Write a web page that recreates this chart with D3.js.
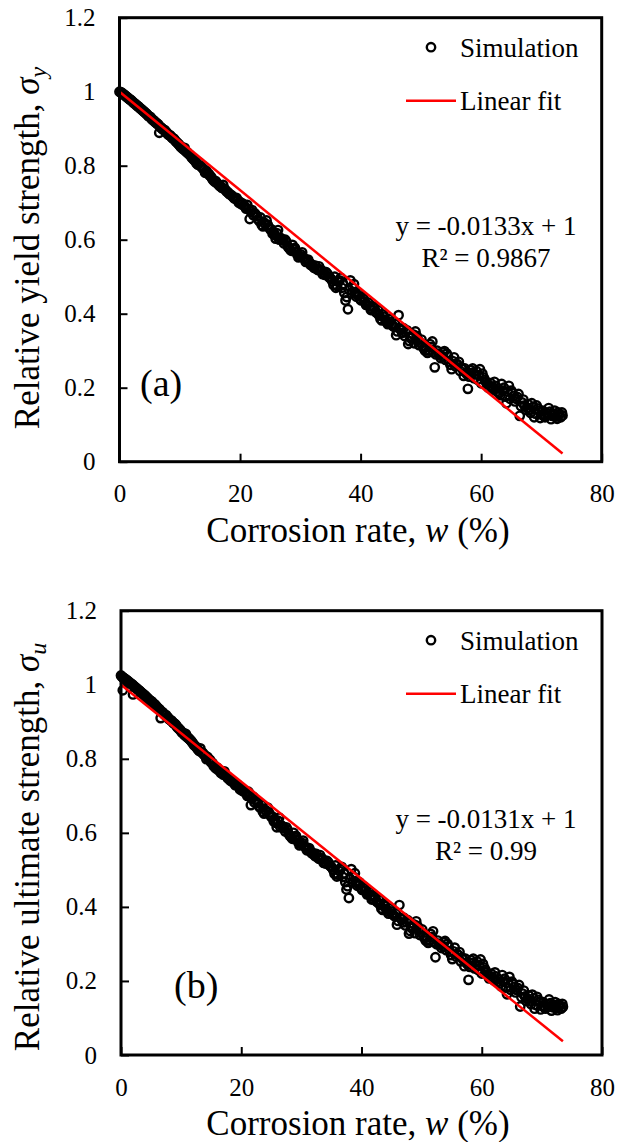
<!DOCTYPE html>
<html>
<head>
<meta charset="utf-8">
<script src="https://cdn.jsdelivr.net/npm/d3@7"></script>
<style>
  body { margin: 0; background: #fff; }
</style>
</head>
<body>
<svg id="chart" width="617" height="1142"></svg>
<script>
var FONT = '"Liberation Serif", "Times New Roman", Times, serif'

// simulation points, [corrosion rate w (%), relative strength]
var simA = [
  [0,1.000],[0.3,0.998],[0.6,0.994],[0.9,0.990],[1.2,0.986],[1.5,0.982],[1.8,0.978],[2.1,0.974],
  [2.4,0.969],[2.7,0.966],[3.0,0.961],[3.3,0.957],[3.6,0.953],[3.9,0.948],[4.2,0.944],[4.5,0.940],
  [4.8,0.934],[5.1,0.932],[5.4,0.925],[5.7,0.922],[6.0,0.917],[6.3,0.913],[6.6,0.889],[6.9,0.903],
  [7.2,0.898],[7.5,0.896],[7.8,0.890],[8.1,0.884],[8.4,0.882],[8.7,0.876],[9.0,0.873],[9.3,0.866],
  [9.6,0.862],[9.9,0.857],[10.2,0.850],[10.5,0.846],[10.8,0.848],[11.1,0.838],[11.4,0.833],[11.7,0.829],
  [12.0,0.822],[12.4,0.815],[12.8,0.806],[13.2,0.809],[13.6,0.797],[14.0,0.790],[14.4,0.786],[14.8,0.778],
  [15.2,0.770],[15.6,0.760],[16.0,0.758],[16.4,0.750],[16.8,0.744],[17.2,0.748],[17.6,0.734],[18.0,0.728],
  [18.4,0.722],[18.8,0.716],[19.2,0.711],[19.6,0.707],[20.0,0.702],[20.4,0.698],[20.8,0.690],[21.2,0.694],
  [21.6,0.656],[22.0,0.680],[22.4,0.672],[22.8,0.664],[23.2,0.650],[23.6,0.640],[24.0,0.646],[24.4,0.652],
  [24.8,0.633],[25.2,0.628],[25.6,0.620],[25.9,0.603],[26.3,0.626],[26.7,0.605],[27.1,0.598],[27.5,0.600],
  [27.9,0.582],[28.3,0.574],[28.7,0.586],[29.1,0.578],[29.5,0.560],[29.9,0.556],[30.3,0.566],[30.7,0.548],
  [31.1,0.543],[31.5,0.538],[31.9,0.533],[32.3,0.524],[32.7,0.521],[33.1,0.528],[33.5,0.518],[33.9,0.510],
  [34.3,0.512],[34.7,0.500],[35.1,0.494],[35.5,0.478],[35.9,0.470],[36.3,0.486],[36.7,0.497],[37.1,0.480],
  [37.5,0.436],[37.9,0.412],[38.3,0.490],[38.7,0.470],[39.1,0.458],[39.5,0.450],[39.9,0.440],[40.3,0.446],
  [40.7,0.432],[41.1,0.425],[41.5,0.420],[41.9,0.412],[42.3,0.415],[42.7,0.402],[43.1,0.395],[43.5,0.382],
  [43.9,0.392],[44.3,0.378],[44.7,0.386],[45.1,0.372],[45.5,0.365],[45.9,0.342],[46.3,0.396],[46.7,0.356],
  [47.1,0.361],[47.5,0.350],[47.9,0.318],[48.3,0.334],[48.7,0.344],[49.1,0.352],[49.5,0.330],[49.9,0.322],
  [50.3,0.312],[50.7,0.300],[51.1,0.294],[51.5,0.318],[51.9,0.325],[52.3,0.255],[52.7,0.300],[53.1,0.289],
  [53.5,0.285],[53.9,0.299],[54.3,0.292],[54.7,0.270],[55.1,0.250],[55.5,0.282],[55.9,0.265],[56.3,0.270],
  [56.7,0.255],[57.1,0.232],[57.5,0.240],[57.8,0.197],[58.2,0.248],[58.6,0.252],[59.0,0.236],[59.4,0.222],
  [59.8,0.250],[60.2,0.238],[60.6,0.222],[61.0,0.210],[61.4,0.206],[61.8,0.200],[62.2,0.216],[62.6,0.190],
  [63.0,0.186],[63.4,0.210],[63.8,0.200],[64.2,0.158],[64.6,0.205],[65.0,0.192],[65.4,0.178],[65.8,0.170],
  [66.2,0.183],[66.4,0.124],[66.8,0.160],[67.2,0.152],[67.6,0.145],[68.0,0.140],[68.4,0.158],[68.8,0.120],
  [69.2,0.152],[69.6,0.138],[70.0,0.128],[70.4,0.124],[70.8,0.132],[71.2,0.145],[71.6,0.115],[72.0,0.130],
  [72.4,0.122],[72.8,0.133],[73.2,0.120],[73.5,0.125]
]
var simA2 = [
  [0.15,0.999],[0.45,0.995],[0.75,0.992],[1.05,0.988],[1.35,0.984],[1.65,0.980],[1.95,0.977],[2.25,0.972],
  [2.55,0.968],[2.85,0.963],[3.15,0.960],[3.45,0.955],[3.75,0.951],[4.05,0.947],[4.35,0.942],[4.65,0.937],
  [4.95,0.933],[5.25,0.929],[5.55,0.924],[5.85,0.919],[6.15,0.915],[6.45,0.911],[6.75,0.905],[7.05,0.901],
  [7.35,0.897],[7.65,0.892],[7.95,0.887],[8.25,0.883],[8.55,0.879],[8.85,0.874],[9.15,0.870],[9.45,0.864],
  [9.75,0.859],[10.05,0.853],[10.35,0.850],[10.65,0.844],[10.95,0.840],[11.25,0.836],[11.55,0.831],[11.85,0.826],
  [12.2,0.818],[12.6,0.812],[13.0,0.803],[13.4,0.800],[13.8,0.793],[14.2,0.781],[14.6,0.780],[15.0,0.773],
  [15.4,0.764],[15.8,0.757],[16.2,0.752],[16.6,0.745],[17.0,0.740],[17.4,0.738],[17.8,0.730],[18.2,0.724],
  [18.6,0.720],[19.0,0.712],[19.4,0.713],[19.8,0.700],[20.2,0.696],[20.6,0.693],[21.0,0.684],[21.4,0.683],
  [21.8,0.676],[22.2,0.666],[22.6,0.668],[23.0,0.655],[23.4,0.660],[23.8,0.636],[24.2,0.642],[24.6,0.640],
  [25.0,0.628],[25.4,0.616],[25.8,0.612],[26.1,0.618],[26.5,0.600],[26.9,0.602],[27.3,0.590],[27.7,0.594],
  [28.1,0.578],[28.5,0.570],[28.9,0.575],[29.3,0.567],[29.7,0.552],[30.1,0.560],[30.5,0.552],[30.9,0.540],
  [31.3,0.546],[31.7,0.532],[32.1,0.528],[32.5,0.530],[32.9,0.518],[33.3,0.520],[33.7,0.507],[34.1,0.505],
  [34.5,0.508],[34.9,0.497],[35.3,0.488],[35.7,0.500],[36.1,0.475],[36.5,0.490],[36.9,0.470],[37.3,0.456],
  [37.7,0.445],[38.1,0.465],[38.5,0.456],[38.9,0.480],[39.3,0.446],[39.7,0.455],[40.1,0.436],[40.5,0.440],
  [40.9,0.424],[41.3,0.430],[41.7,0.410],[42.1,0.420],[42.5,0.405],[42.9,0.410],[43.3,0.386],[43.7,0.398],
  [44.1,0.384],[44.5,0.372],[44.9,0.378],[45.3,0.368],[45.7,0.372],[46.1,0.352],[46.5,0.360],[46.9,0.348],
  [47.3,0.340],[47.7,0.355],[48.1,0.326],[48.5,0.338],[48.9,0.320],[49.3,0.340],[49.7,0.315],[50.1,0.330],
  [50.5,0.306],[50.9,0.310],[51.3,0.300],[51.7,0.310],[52.1,0.296],[52.5,0.290],[52.9,0.292],[53.3,0.280],
  [53.7,0.295],[54.1,0.275],[54.5,0.285],[54.9,0.262],[55.3,0.272],[55.7,0.258],[56.1,0.262],[56.5,0.245],
  [56.9,0.250],[57.3,0.252],[57.7,0.236],[58.0,0.230],[58.4,0.240],[58.8,0.226],[59.2,0.245],[59.6,0.234],
  [60.0,0.212],[60.4,0.228],[60.8,0.215],[61.2,0.200],[61.6,0.212],[62.0,0.195],[62.4,0.205],[62.8,0.198],
  [63.2,0.180],[63.6,0.192],[64.0,0.176],[64.4,0.190],[64.8,0.170],[65.2,0.186],[65.6,0.163],[66.0,0.175],
  [66.6,0.150],[67.0,0.168],[67.4,0.140],[67.8,0.155],[68.2,0.132],[68.6,0.148],[69.0,0.130],[69.4,0.144],
  [69.8,0.118],[70.2,0.138],[70.6,0.120],[71.0,0.126],[71.4,0.135],[71.8,0.124],[72.2,0.138],[72.6,0.116],
  [73.0,0.128],[73.4,0.133]
]

var simB = [
  [0,1.025],[0.3,1.020],[0.3,0.985],[0.6,1.017],[0.9,1.013],[1.2,1.009],[1.5,1.005],[1.8,1.001],
  [2.0,0.974],[2.1,0.997],[2.4,0.993],[2.7,0.989],[3.0,0.985],[3.3,0.980],[3.6,0.976],[3.9,0.972],
  [4.2,0.967],[4.5,0.963],[4.8,0.958],[5.1,0.955],[5.4,0.949],[5.7,0.946],[6.0,0.940],[6.3,0.935],
  [6.6,0.910],[6.9,0.926],[7.2,0.920],[7.5,0.918],[7.8,0.912],[8.1,0.906],[8.4,0.903],[8.7,0.897],
  [9.0,0.894],[9.3,0.887],[9.6,0.882],[9.9,0.877],[10.2,0.870],[10.5,0.866],[10.8,0.867],[11.1,0.858],
  [11.4,0.853],[11.7,0.848],[12.0,0.841],[12.4,0.834],[12.8,0.825],[13.2,0.828],[13.6,0.816],[14.0,0.809],
  [14.4,0.805],[14.8,0.797],[15.2,0.789],[15.6,0.778],[16.0,0.776],[16.4,0.769],[16.8,0.762],[17.2,0.766],
  [17.6,0.752],[18.0,0.746],[18.4,0.740],[18.8,0.734],[19.2,0.729],[19.6,0.725],[20.0,0.720],[20.4,0.716],
  [20.8,0.707],[21.2,0.711],[21.6,0.675],[22.0,0.697],[22.4,0.689],[22.8,0.681],[23.2,0.667],[23.6,0.657],
  [24.0,0.662],[24.4,0.668],[24.8,0.649],[25.2,0.644],[25.6,0.636],[25.9,0.615],[26.3,0.641],[26.7,0.620],
  [27.1,0.613],[27.5,0.615],[27.9,0.597],[28.3,0.589],[28.7,0.600],[29.1,0.592],[29.5,0.574],[29.9,0.570],
  [30.3,0.579],[30.7,0.561],[31.1,0.556],[31.5,0.551],[31.9,0.546],[32.3,0.537],[32.7,0.534],[33.1,0.540],
  [33.5,0.530],[33.9,0.522],[34.3,0.524],[34.7,0.512],[35.1,0.506],[35.5,0.490],[35.9,0.482],[36.3,0.497],
  [36.7,0.508],[37.1,0.491],[37.5,0.447],[37.9,0.424],[38.3,0.502],[38.7,0.481],[39.1,0.469],[39.5,0.461],
  [39.9,0.451],[40.3,0.456],[40.7,0.443],[41.1,0.435],[41.5,0.430],[41.9,0.422],[42.3,0.425],[42.7,0.412],
  [43.1,0.405],[43.5,0.392],[43.9,0.402],[44.3,0.388],[44.7,0.396],[45.1,0.382],[45.5,0.375],[45.9,0.352],
  [46.3,0.405],[46.7,0.366],[47.1,0.370],[47.5,0.359],[47.9,0.328],[48.3,0.343],[48.7,0.353],[49.1,0.361],
  [49.5,0.339],[49.9,0.331],[50.3,0.321],[50.7,0.309],[51.1,0.303],[51.5,0.327],[51.9,0.334],[52.3,0.264],
  [52.7,0.309],[53.1,0.298],[53.5,0.294],[53.9,0.308],[54.3,0.300],[54.7,0.279],[55.1,0.259],[55.5,0.290],
  [55.9,0.273],[56.3,0.278],[56.7,0.263],[57.1,0.240],[57.5,0.248],[57.8,0.203],[58.2,0.256],[58.6,0.260],
  [59.0,0.244],[59.4,0.230],[59.8,0.258],[60.2,0.246],[60.6,0.230],[61.0,0.218],[61.4,0.213],[61.8,0.207],
  [62.2,0.223],[62.6,0.197],[63.0,0.193],[63.4,0.216],[63.8,0.206],[64.2,0.164],[64.6,0.211],[65.0,0.198],
  [65.4,0.184],[65.8,0.176],[66.2,0.189],[66.4,0.131],[66.8,0.166],[67.2,0.158],[67.6,0.151],[68.0,0.145],
  [68.4,0.163],[68.8,0.125],[69.2,0.157],[69.6,0.143],[70.0,0.133],[70.4,0.129],[70.8,0.137],[71.2,0.150],
  [71.6,0.120],[72.0,0.135],[72.4,0.127],[72.8,0.138],[73.2,0.125],[73.5,0.130]
]
var simB2 = [
  [0.15,1.022],[0.45,1.018],[0.75,1.015],[1.05,1.011],[1.35,1.007],[1.65,1.003],[1.95,1.000],[2.25,0.995],
  [2.55,0.991],[2.85,0.986],[3.15,0.983],[3.45,0.978],[3.75,0.974],[4.05,0.970],[4.35,0.965],[4.65,0.960],
  [4.95,0.956],[5.25,0.952],[5.55,0.947],[5.85,0.942],[6.15,0.937],[6.45,0.933],[6.75,0.927],[7.05,0.923],
  [7.35,0.918],[7.65,0.913],[7.95,0.908],[8.25,0.904],[8.55,0.900],[8.85,0.895],[9.15,0.891],[9.45,0.884],
  [9.75,0.879],[10.05,0.873],[10.35,0.870],[10.65,0.863],[10.95,0.859],[11.25,0.855],[11.55,0.850],[11.85,0.844],
  [12.2,0.836],[12.6,0.830],[13.0,0.821],[13.4,0.818],[13.8,0.811],[14.2,0.799],[14.6,0.798],[15.0,0.790],
  [15.4,0.781],[15.8,0.774],[16.2,0.769],[16.6,0.762],[17.0,0.757],[17.4,0.755],[17.8,0.747],[18.2,0.741],
  [18.6,0.737],[19.0,0.729],[19.4,0.730],[19.8,0.717],[20.2,0.713],[20.6,0.710],[21.0,0.700],[21.4,0.699],
  [21.8,0.692],[22.2,0.682],[22.6,0.684],[23.0,0.671],[23.4,0.676],[23.8,0.652],[24.2,0.658],[24.6,0.655],
  [25.0,0.643],[25.4,0.631],[25.8,0.627],[26.1,0.633],[26.5,0.615],[26.9,0.617],[27.3,0.604],[27.7,0.608],
  [28.1,0.592],[28.5,0.584],[28.9,0.589],[29.3,0.581],[29.7,0.566],[30.1,0.573],[30.5,0.565],[30.9,0.553],
  [31.3,0.559],[31.7,0.545],[32.1,0.541],[32.5,0.543],[32.9,0.530],[33.3,0.532],[33.7,0.519],[34.1,0.517],
  [34.5,0.520],[34.9,0.509],[35.3,0.500],[35.7,0.512],[36.1,0.487],[36.5,0.502],[36.9,0.481],[37.3,0.467],
  [37.7,0.456],[38.1,0.476],[38.5,0.467],[38.9,0.491],[39.3,0.457],[39.7,0.466],[40.1,0.446],[40.5,0.450],
  [40.9,0.434],[41.3,0.440],[41.7,0.420],[42.1,0.430],[42.5,0.415],[42.9,0.420],[43.3,0.396],[43.7,0.408],
  [44.1,0.394],[44.5,0.382],[44.9,0.388],[45.3,0.378],[45.7,0.382],[46.1,0.362],[46.5,0.370],[46.9,0.358],
  [47.3,0.350],[47.7,0.364],[48.1,0.335],[48.5,0.347],[48.9,0.329],[49.3,0.349],[49.7,0.324],[50.1,0.339],
  [50.5,0.315],[50.9,0.319],[51.3,0.309],[51.7,0.319],[52.1,0.305],[52.5,0.299],[52.9,0.301],[53.3,0.289],
  [53.7,0.304],[54.1,0.283],[54.5,0.293],[54.9,0.270],[55.3,0.280],[55.7,0.266],[56.1,0.270],[56.5,0.253],
  [56.9,0.258],[57.3,0.260],[57.7,0.244],[58.0,0.238],[58.4,0.248],[58.8,0.234],[59.2,0.253],[59.6,0.242],
  [60.0,0.220],[60.4,0.236],[60.8,0.223],[61.2,0.207],[61.6,0.219],[62.0,0.202],[62.4,0.212],[62.8,0.205],
  [63.2,0.186],[63.6,0.198],[64.0,0.182],[64.4,0.196],[64.8,0.176],[65.2,0.192],[65.6,0.169],[66.0,0.181],
  [66.6,0.156],[67.0,0.174],[67.4,0.146],[67.8,0.161],[68.2,0.137],[68.6,0.153],[69.0,0.135],[69.4,0.149],
  [69.8,0.123],[70.2,0.143],[70.6,0.125],[71.0,0.131],[71.4,0.140],[71.8,0.129],[72.2,0.143],[72.6,0.121],
  [73.0,0.133],[73.4,0.138]
]

// linear fit end points
var fitA = [[0, 1], [73.5, 0.022]]
var fitB = [[0, 1], [73.5, 0.037]]

var xTicks = [0, 20, 40, 60, 80]
var yTicks = [0, 0.2, 0.4, 0.6, 0.8, 1, 1.2]
var legendLabels = ['Simulation', 'Linear fit']

var panels = [
  { sim: simA.concat(simA2), fit: fitA, top: 17.7, bottom: 461.7, left: 119.5, right: 601.7,
    yName: 'Relative yield strength, ', sub: 'y', titleY: 248, tag: '(a)', tagX: 140, tagY: 396,
    eq: ['y = -0.0133x + 1', 'R² = 0.9867'] },
  { sim: simB.concat(simB2), fit: fitB, top: 610.7, bottom: 1055, left: 121, right: 602,
    yName: 'Relative ultimate strength, ', sub: 'u', titleY: 847, tag: '(b)', tagX: 174, tagY: 998,
    eq: ['y = -0.0131x + 1', 'R² = 0.99'] }
]

var svg = d3.select('#chart').style('font-family', FONT)

panels.forEach(function(p) {
  var x = d3.scaleLinear().domain([0, 80]).range([p.left, p.right])
  var y = d3.scaleLinear().domain([0, 1.2]).range([p.bottom, p.top])
  var g = svg.append('g')

  // axes, ticks point inward
  g.append('g')
    .attr('transform', `translate(0,${p.bottom})`)
    .call(d3.axisBottom(x).tickValues(xTicks).tickSizeInner(-8).tickSizeOuter(0).tickPadding(23).tickFormat(d3.format('d')))
    .attr('font-family', null)
    .attr('font-size', null)
    .call(a => a.select('.domain').remove())
    .call(a => a.selectAll('line').attr('stroke', '#000').attr('stroke-width', 2))
    .call(a => a.selectAll('text').style('font-family', FONT).attr('font-size', 25))

  g.append('g')
    .attr('transform', `translate(${p.left},0)`)
    .call(d3.axisLeft(y).tickValues(yTicks).tickSizeInner(-8).tickSizeOuter(0).tickPadding(24).tickFormat(d => String(d)))
    .attr('font-family', null)
    .attr('font-size', null)
    .call(a => a.select('.domain').remove())
    .call(a => a.selectAll('line').attr('stroke', '#000').attr('stroke-width', 2))
    .call(a => a.selectAll('text').style('font-family', FONT).attr('font-size', 25))

  // points
  g.append('g')
    .selectAll('circle')
    .data(p.sim)
    .enter()
    .append('circle')
    .attr('cx', d => x(d[0]))
    .attr('cy', d => y(d[1]))
    .attr('r', 4.2)
    .attr('fill', 'none')
    .attr('stroke', '#000')
    .attr('stroke-width', 2.4)

  var line = d3.line().x(d => x(d[0])).y(d => y(d[1]))
  g.append('path')
    .datum(p.fit)
    .attr('d', line)
    .attr('fill', 'none')
    .attr('stroke', '#ff0000')
    .attr('stroke-width', 2.5)

  // frame
  g.append('rect')
    .attr('x', p.left)
    .attr('y', p.top)
    .attr('width', p.right - p.left)
    .attr('height', p.bottom - p.top)
    .attr('fill', 'none')
    .attr('stroke', '#000')
    .attr('stroke-width', 3)

  // legend
  g.append('circle')
    .attr('cx', 431).attr('cy', p.top + 29.5).attr('r', 4.2)
    .attr('fill', 'none').attr('stroke', '#000').attr('stroke-width', 2.4)
  g.append('text').attr('x', 460).attr('y', p.top + 39.5).attr('font-size', 27).text(legendLabels[0])
  g.append('line')
    .attr('x1', 406).attr('x2', 456).attr('y1', p.top + 83).attr('y2', p.top + 83)
    .attr('stroke', '#ff0000').attr('stroke-width', 2.5)
  g.append('text').attr('x', 460).attr('y', p.top + 92.5).attr('font-size', 27).text(legendLabels[1])

  // fit equation
  g.selectAll('.eq')
    .data(p.eq)
    .enter()
    .append('text')
    .attr('class', 'eq')
    .attr('x', 486)
    .attr('y', (d, i) => p.top + 217 + i * 32)
    .attr('text-anchor', 'middle')
    .attr('font-size', 27)
    .text(d => d)

  g.append('text')
    .attr('x', p.tagX).attr('y', p.tagY)
    .attr('font-size', 38)
    .text(p.tag)

  // axis titles
  var xt = g.append('text')
    .attr('x', 358).attr('y', p.bottom + 80)
    .attr('text-anchor', 'middle')
    .attr('font-size', 35)
  xt.append('tspan').text('Corrosion rate, ')
  xt.append('tspan').attr('font-style', 'italic').text('w')
  xt.append('tspan').text(' (%)')

  var yt = g.append('text')
    .attr('transform', `translate(39,${p.titleY}) rotate(-90)`)
    .attr('text-anchor', 'middle')
    .attr('font-size', 35)
  yt.append('tspan').text(p.yName)
  yt.append('tspan').attr('font-style', 'italic').text('σ')
  yt.append('tspan').attr('font-style', 'italic').attr('font-size', 24).attr('dy', 7).text(p.sub)
})
</script>
</body>
</html>
